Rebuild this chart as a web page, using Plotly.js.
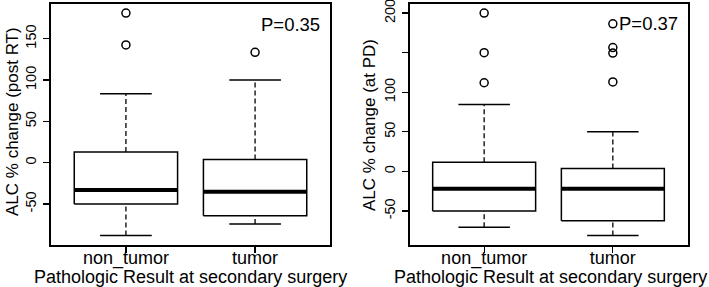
<!DOCTYPE html>
<html>
<head>
<meta charset="utf-8">
<script src="https://cdn.plot.ly/plotly-3.0.1.min.js"></script>
<style>html,body{margin:0;padding:0;background:#fff;}#chart{width:709px;height:287px;}</style>
</head>
<body>
<div id="chart"></div>
<script>
// ---- data ----
const categories = ['non_tumor', 'tumor'];

// Panel 1: ALC % change (post RT)
const postRT_lowerWhisker = [-88, -74];
const postRT_q1 = [-50, -64];
const postRT_median = [-33, -35];
const postRT_q3 = [13, 4];
const postRT_upperWhisker = [83.5, 100];
const postRT_outliers = [[181, 142.5], [133.5]];
const postRT_pLabel = 'P=0.35';

// Panel 2: ALC % change (at PD)
const atPD_lowerWhisker = [-70.5, -81];
const atPD_q1 = [-50, -62.5];
const atPD_median = [-22, -22];
const atPD_q3 = [11.5, 3.5];
const atPD_upperWhisker = [84.5, 50];
const atPD_outliers = [[200, 150, 112], [186.5, 156.5, 149.5, 113]];
const atPD_pLabel = 'P=0.37';

const postRT_tickVals = [-50, 0, 50, 100, 150];
const postRT_tickText = ['-50', '0', '50', '100', '150'];
const atPD_tickVals = [-50, 0, 50, 100, 150, 200];
const atPD_tickText = ['-50', '0', '50', '100', '', '200'];

// ---- drawing ----
const FONT = '"Liberation Sans", Arial, Helvetica, sans-serif';
const HALF_BOX = 0.4, HALF_CAP = 0.2;
const traces = [];

function addPanel(xa, ya, lw, q1, med, q3, uw, outl) {
  categories.forEach((c, k) => {
    const i = k + 1;
    traces.push({ x: [i - HALF_BOX, i + HALF_BOX, i + HALF_BOX, i - HALF_BOX, i - HALF_BOX],
      y: [q1[k], q1[k], q3[k], q3[k], q1[k]], xaxis: xa, yaxis: ya, mode: 'lines',
      line: { color: '#000', width: 1.5 }, hoverinfo: 'skip', showlegend: false });
    traces.push({ x: [i, i, null, i, i], y: [lw[k], q1[k], null, q3[k], uw[k]], xaxis: xa, yaxis: ya,
      mode: 'lines', line: { color: '#000', width: 1.3, dash: '5px,3px' }, hoverinfo: 'skip', showlegend: false });
    traces.push({ x: [i - HALF_CAP, i + HALF_CAP, null, i - HALF_CAP, i + HALF_CAP],
      y: [lw[k], lw[k], null, uw[k], uw[k]], xaxis: xa, yaxis: ya, mode: 'lines',
      line: { color: '#000', width: 1.5 }, hoverinfo: 'skip', showlegend: false });
    traces.push({ x: [i - HALF_BOX, i + HALF_BOX], y: [med[k], med[k]], xaxis: xa, yaxis: ya,
      mode: 'lines', line: { color: '#000', width: 4 }, hoverinfo: 'skip', showlegend: false });
    traces.push({ x: outl[k].map(() => i), y: outl[k], xaxis: xa, yaxis: ya, mode: 'markers',
      marker: { symbol: 'circle-open', size: 8, color: '#000', line: { width: 1.5, color: '#000' } },
      showlegend: false });
  });
}
addPanel('x', 'y', postRT_lowerWhisker, postRT_q1, postRT_median, postRT_q3, postRT_upperWhisker, postRT_outliers);
addPanel('x2', 'y2', atPD_lowerWhisker, atPD_q1, atPD_median, atPD_q3, atPD_upperWhisker, atPD_outliers);

const xCommon = {
  range: [0.42, 2.58], tickvals: [1, 2], ticktext: categories,
  showline: true, mirror: true, linecolor: '#000', linewidth: 2,
  ticks: 'outside', ticklen: 6, tickwidth: 1.3, tickcolor: '#000',
  showgrid: false, zeroline: false, fixedrange: true,
  tickfont: { family: FONT, size: 18, color: '#000' }, ticklabelstandoff: -11
};
const yCommon = {
  showline: true, mirror: true, linecolor: '#000', linewidth: 2,
  ticks: 'outside', ticklen: 6, tickwidth: 1.3, tickcolor: '#000',
  showgrid: false, zeroline: false, fixedrange: true, tickangle: -90,
  tickfont: { family: FONT, size: 14.5, color: '#000' }, ticklabelstandoff: 1,
  ticklabeloverflow: 'allow'
};

const yDom = [1 - 245 / 287, 1 - 4 / 287];
const layout = {
  width: 709, height: 287,
  margin: { l: 0, r: 0, t: 0, b: 0 },
  paper_bgcolor: '#fff', plot_bgcolor: '#fff',
  font: { family: FONT, color: '#000' },
  showlegend: false,
  xaxis: Object.assign({}, xCommon, { domain: [51 / 709, 330 / 709], anchor: 'y' }),
  yaxis: Object.assign({}, yCommon, { domain: yDom, anchor: 'x', range: [-99.5, 192],
    tickvals: postRT_tickVals, ticktext: postRT_tickText }),
  xaxis2: Object.assign({}, xCommon, { domain: [409.5 / 709, 687.5 / 709], anchor: 'y2' }),
  yaxis2: Object.assign({}, yCommon, { domain: yDom, anchor: 'x2', range: [-93, 211.5],
    tickvals: atPD_tickVals, ticktext: atPD_tickText }),
  annotations: [
    { text: postRT_pLabel, xref: 'x', yref: 'y', x: 2.275, y: 166.7, showarrow: false,
      font: { family: FONT, size: 18.5, color: '#000' } },
    { text: atPD_pLabel, xref: 'x2', yref: 'y2', x: 2.275, y: 186.5, showarrow: false,
      font: { family: FONT, size: 18.5, color: '#000' } },
    { text: 'Pathologic Result at secondary surgery', xref: 'paper', yref: 'paper',
      x: 190 / 709, y: 1 - 277 / 287, showarrow: false, xanchor: 'center', yanchor: 'middle',
      font: { family: FONT, size: 18, color: '#000' } },
    { text: 'Pathologic Result at secondary surgery', xref: 'paper', yref: 'paper',
      x: 550 / 709, y: 1 - 277 / 287, showarrow: false, xanchor: 'center', yanchor: 'middle',
      font: { family: FONT, size: 18, color: '#000' } },
    { text: 'ALC % change (post RT)', xref: 'paper', yref: 'paper', textangle: -90,
      x: 12 / 709, y: 1 - 122 / 287, showarrow: false, xanchor: 'center', yanchor: 'middle',
      font: { family: FONT, size: 17, color: '#000' } },
    { text: 'ALC % change (at PD)', xref: 'paper', yref: 'paper', textangle: -90,
      x: 370 / 709, y: 1 - 125 / 287, showarrow: false, xanchor: 'center', yanchor: 'middle',
      font: { family: FONT, size: 17, color: '#000' } }
  ]
};

Plotly.newPlot('chart', traces, layout, { displayModeBar: false, staticPlot: true });
</script>
</body>
</html>
